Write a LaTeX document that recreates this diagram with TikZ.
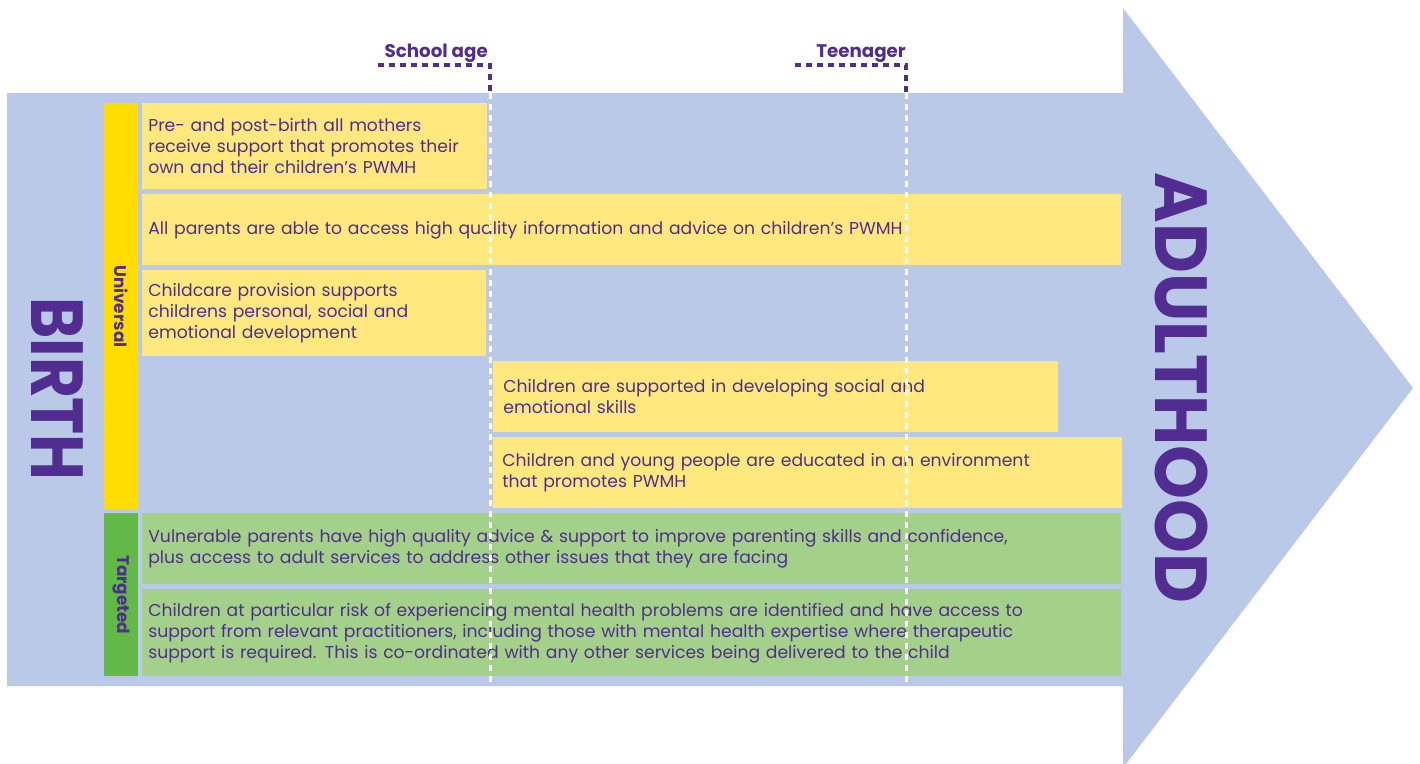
\documentclass[tikz,border=0pt]{standalone}
\usepackage{fontspec}
\setmainfont{Poppins}
\usepackage{xcolor}
\usepackage{tikz}

\definecolor{lifeblue}{HTML}{BAC9E7}
\definecolor{lifepurple}{HTML}{512D91}
\definecolor{boxyellow}{HTML}{FFE97F}
\definecolor{baryellow}{HTML}{FFDD00}
\definecolor{boxgreen}{HTML}{A3D18A}
\definecolor{bargreen}{HTML}{62B946}

\tikzset{
  actionbox/.style={anchor=north west, inner xsep=0.12cm, inner ysep=0pt,
    align=left, text=lifepurple, font=\fontsize{9.8}{12}\selectfont},
  ybox/.style={actionbox, fill=boxyellow},
  gbox/.style={actionbox, fill=boxgreen},
  tierbar/.style={anchor=north west, inner sep=0pt, minimum width=0.68cm},
  tierlabel/.style={rotate=-90, text=lifepurple, font=\fontsize{9.6}{10}\selectfont\bfseries},
  stage/.style={rotate=-90, text=lifepurple, font=\fontsize{42}{42}\selectfont\bfseries},
  agelabel/.style={anchor=base east, text=lifepurple, font=\fontsize{10.4}{12}\selectfont\bfseries},
  agelead/.style={lifepurple, line width=0.07cm, dash pattern=on 0.12cm off 0.1cm},
  ageline/.style={white, line width=0.06cm, dash pattern=on 0.12cm off 0.1cm}
}

\begin{document}
\begin{tikzpicture}[x=0.02cm,y=-0.02cm]
  \useasboundingbox (0,0) rectangle (1420,764);

  % the big arrow from birth to adulthood
  \fill[lifeblue] (7,93) -- (1123,93) -- (1123,8) -- (1413,388) -- (1123,768)
    -- (1123,686) -- (7,686) -- cycle;
  \node[stage, xscale=0.85] (birth) at (57,389) {BIRTH};
  \node[stage, xscale=0.93] (adult) at (1181,388) {ADULTHOOD};

  % universal / targeted bars
  \node[tierbar, fill=baryellow, minimum height=8.12cm] (univ) at (104,103) {};
  \node[tierbar, fill=bargreen, minimum height=3.26cm] (targ) at (104,513) {};
  \node[tierlabel] (univ label) at (univ.center) {Universal};
  \node[tierlabel] (targ label) at (targ.center) {Targeted};

  % universal offer
  \node[ybox, text width=6.66cm, minimum height=1.72cm] (mothers) at (142,103)
    {Pre- and post-birth all mothers\\receive support that promotes their\\own and their children’s PWMH};
  \node[ybox, text width=19.34cm, minimum height=1.42cm] (parents) at (142,194)
    {All parents are able to access high quality information and advice on children’s PWMH};
  \node[ybox, text width=6.64cm, minimum height=1.72cm] (childcare) at (142,270)
    {Childcare provision supports\\childrens personal, social and\\emotional development};
  \node[ybox, inner xsep=0.2cm, text width=10.9cm, minimum height=1.42cm] (skills) at (493,361)
    {Children are supported in developing social and\\emotional skills};
  \node[ybox, inner xsep=0.18cm, text width=12.22cm, minimum height=1.42cm] (schools) at (493,437)
    {Children and young people are educated in an environment\\that promotes PWMH};

  % targeted offer
  \node[gbox, text width=19.34cm, minimum height=1.42cm] (vulnerable) at (142,513)
    {Vulnerable parents have high quality advice \& support to improve parenting skills and confidence,\\plus access to adult services to address other issues that they are facing};
  \node[gbox, text width=19.34cm, minimum height=1.74cm] (atrisk) at (142,589)
    {Children at particular risk of experiencing mental health problems are identified and have access to\\support from relevant practitioners, including those with mental health expertise where therapeutic\\support is required. This is co-ordinated with any other services being delivered to the child};

  % age markers
  \node[agelabel] (school) at (494,57) {School age};
  \node[agelabel] (teen) at (912,57) {Teenager};
  \coordinate (school start) at (378,65);
  \coordinate (school top) at (490,93);
  \coordinate (school end) at (490,686);
  \coordinate (teen start) at (795,65);
  \coordinate (teen top) at (906,93);
  \coordinate (teen end) at (906,686);
  \draw[agelead] (school start) -| (school top);
  \draw[ageline] (school top) -- (school end);
  \draw[agelead] (teen start) -| (teen top);
  \draw[ageline] (teen top) -- (teen end);
\end{tikzpicture}
\end{document}
